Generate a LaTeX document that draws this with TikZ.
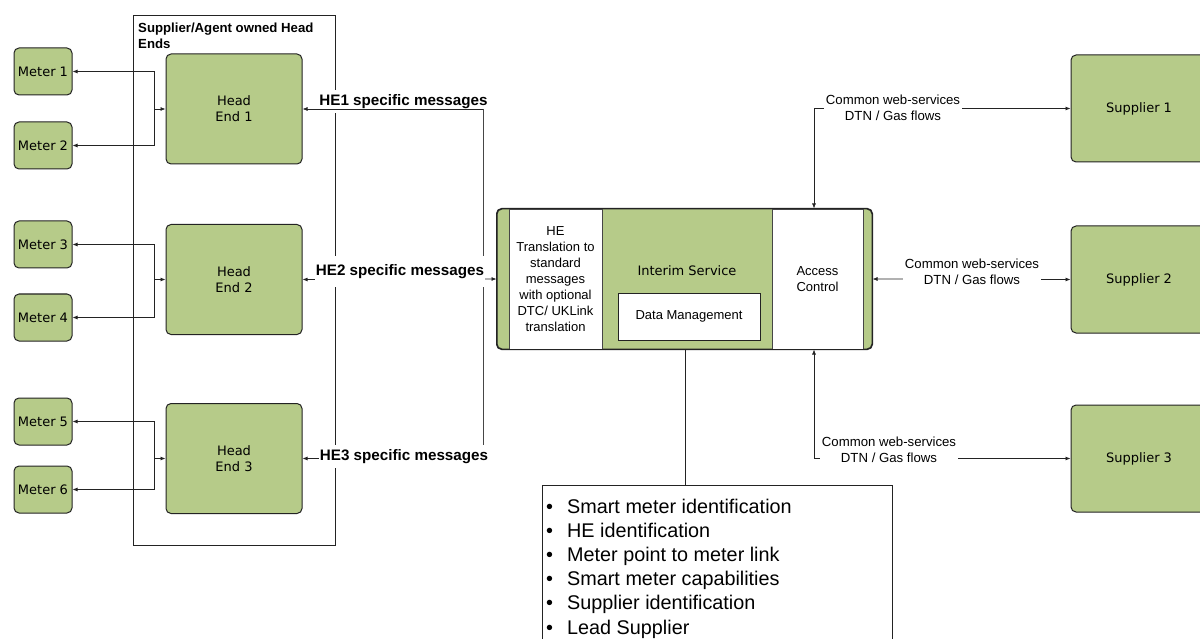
\documentclass[tikz,border=0pt]{standalone}
\usepackage{fontspec}
\setmainfont{Liberation Sans}
\newfontfamily\verd{DejaVu Sans}
\usetikzlibrary{arrows.meta}
\definecolor{grn}{RGB}{182,203,137}
\definecolor{edge}{RGB}{35,35,35}
\definecolor{divl}{RGB}{70,70,70}
\begin{document}
\begin{tikzpicture}[x=1pt,y=-1pt,
  gbox/.style={draw=edge, fill=grn, rounded corners=5pt, line width=1pt, inner sep=0pt, align=center, font=\verd\fontsize{13}{16}\selectfont},
  meterbox/.style={gbox, minimum width=58pt, minimum height=47pt},
  hebox/.style={gbox, minimum width=136pt, minimum height=110pt},
  supbox/.style={gbox, minimum width=136pt, minimum height=107pt},
  arr/.style={-{Latex[length=5pt,width=4pt]}, line width=0.7pt, draw=edge},
  darr/.style={{Latex[length=5pt,width=4pt]}-{Latex[length=5pt,width=4pt]}, line width=0.7pt, draw=edge},
  plain/.style={line width=0.7pt, draw=edge},
  lbl/.style={fill=white, inner sep=2pt, align=center, font=\fontsize{13.2}{15.5}\selectfont},
  hel/.style={fill=white, inner xsep=1pt, inner ysep=4pt, font=\bfseries\fontsize{15.2}{18}\selectfont},
  sect/.style={draw=divl, fill=white, line width=0.8pt, inner sep=0pt, minimum height=140pt, align=center, font=\fontsize{13}{16}\selectfont}]
\useasboundingbox (0,0) rectangle (1200,639);
\clip (0,0) rectangle (1200,639);

% container
\node[draw=edge, line width=0.8pt, minimum width=202pt, minimum height=530pt, inner sep=0pt] (cont) at (234,280.5) {};
\node[anchor=north west, align=left, inner sep=0pt, font=\bfseries\fontsize{13.2}{16}\selectfont] (conttitle) at (138,22.5) {Supplier/Agent owned Head\\Ends};

% meters and head ends
\node[meterbox] (m1) at (43,71.5) {Meter 1};
\node[meterbox] (m2) at (43,145.5) {Meter 2};
\node[meterbox] (m3) at (43,244.5) {Meter 3};
\node[meterbox] (m4) at (43,317.5) {Meter 4};
\node[meterbox] (m5) at (43,421.5) {Meter 5};
\node[meterbox] (m6) at (43,489.5) {Meter 6};
\node[hebox] (he1) at (234,109) {Head\\End 1};
\node[hebox] (he2) at (234,279.5) {Head\\End 2};
\node[hebox] (he3) at (234,458.5) {Head\\End 3};

% interim service block
\node[draw=edge, fill=grn, rounded corners=5pt, line width=1pt, minimum width=375pt, minimum height=140pt, inner sep=0pt] (int) at (684.5,279) {};
\node[sect, minimum width=93pt] (trans) at (555.5,279) {HE\\Translation to\\standard\\messages\\with optional\\DTC/ UKLink\\translation};
\node[sect, minimum width=91pt] (ac) at (817.5,279) {Access\\Control};
\draw[draw=edge, line width=1pt, rounded corners=5pt] (int.north west) rectangle (int.south east);
\node[font=\verd\fontsize{13}{16}\selectfont, inner sep=0pt] (isv) at (687,271) {Interim Service};
\node[draw=edge, fill=white, line width=0.8pt, minimum width=142pt, minimum height=47pt, inner sep=0pt, font=\fontsize{13}{16}\selectfont] (dm) at (689,316.5) {Data Management};

% suppliers
\node[supbox] (s1) at (1139,108.5) {Supplier 1};
\node[supbox] (s2) at (1139,279.5) {Supplier 2};
\node[supbox] (s3) at (1139,458.5) {Supplier 3};

% list
\node[draw=edge, fill=white, line width=0.8pt, anchor=north west, minimum width=350pt, minimum height=200pt, inner sep=0pt] (list) at (542,485) {};
\node[anchor=north west, align=left, inner sep=0pt, font=\fontsize{19.8}{24.2}\selectfont] (listtxt) at (544,498.5) {%
\makebox[23pt][l]{\hspace{2pt}\textbullet}Smart meter identification\\
\makebox[23pt][l]{\hspace{2pt}\textbullet}HE identification\\
\makebox[23pt][l]{\hspace{2pt}\textbullet}Meter point to meter link\\
\makebox[23pt][l]{\hspace{2pt}\textbullet}Smart meter capabilities\\
\makebox[23pt][l]{\hspace{2pt}\textbullet}Supplier identification\\
\makebox[23pt][l]{\hspace{2pt}\textbullet}Lead Supplier};
\coordinate (lx) at (685,0);
\draw[plain] (int.south -| lx) -- (list.north -| lx);

% HE1 label (line drawn over it)
\node[hel] (l1) at (403.5,101.5) {HE1 specific messages};

% meter buses
\coordinate (b1) at (154,109);
\coordinate (b2) at (154,279.5);
\coordinate (b3) at (154,458.5);
\draw[arr] (b1) -- (he1.west);
\draw[arr] (b1) |- (m1.east);
\draw[arr] (b1) |- (m2.east);
\draw[arr] (b2) -- (he2.west);
\draw[arr] (b2) |- (m3.east);
\draw[arr] (b2) |- (m4.east);
\draw[arr] (b3) -- (he3.west);
\draw[arr] (b3) |- (m5.east);
\draw[arr] (b3) |- (m6.east);

% head end messages
\coordinate (hb1) at (483,109);
\coordinate (hb3) at (483,458.5);
\draw[line width=0.6pt, draw=divl] (hb1) -- (hb3);
\draw[arr] (hb1) -- (he1.east);
\draw[arr] (hb3) -- (he3.east);
\draw[darr] (he2.east) -- (int.west);
\node[hel, inner ysep=8pt] (l2) at (400,271.5) {HE2 specific messages};
\node[hel] (l3) at (404,456.5) {HE3 specific messages};

% supplier connections
\coordinate (c1) at (814,108.5);
\coordinate (c3) at (814,458.5);
\draw[darr] (int.north -| c1) -- (c1) -- (s1.west);
\draw[darr] (int.east) -- (s2.west);
\draw[darr] (int.south -| c1) -- (c3) -- (s3.west);
\node[lbl] (w1) at (893,108) {Common web-services\\DTN / Gas flows};
\node[lbl] (w2) at (972,272) {Common web-services\\DTN / Gas flows};
\node[lbl] (w3) at (889,450) {Common web-services\\DTN / Gas flows};
\end{tikzpicture}
\end{document}
